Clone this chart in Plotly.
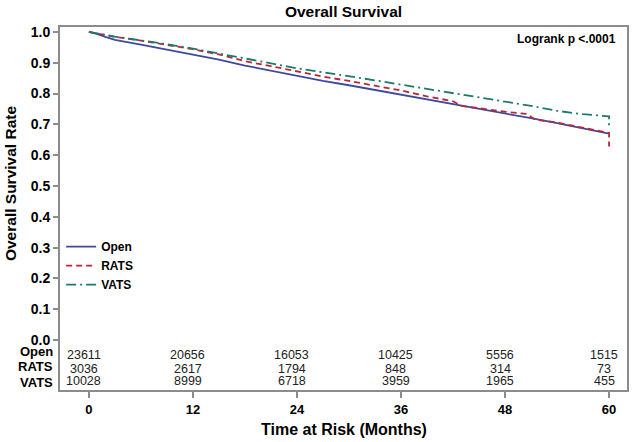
import plotly.graph_objects as go

# ---- data ----
months = [0, 1, 2, 3, 6, 9, 12, 15, 18, 21, 24, 27, 30, 33, 36, 39, 42, 45, 48, 51, 54, 57, 60, 60]
open_surv = [1.0, 0.993, 0.983, 0.974, 0.959, 0.943, 0.926, 0.910, 0.891, 0.874, 0.857, 0.841,
             0.827, 0.812, 0.797, 0.781, 0.765, 0.750, 0.735, 0.720, 0.704, 0.688, 0.672, 0.670]

rats_months = [0, 1, 2, 3, 6, 9, 12, 15, 18, 21, 24, 27, 30, 33, 36, 39, 42, 43, 45, 48, 50.5, 51.5,
               54, 57, 60, 60]
rats_surv = [1.0, 0.995, 0.990, 0.984, 0.972, 0.958, 0.944, 0.927, 0.905, 0.889, 0.871, 0.855,
             0.841, 0.826, 0.810, 0.791, 0.775, 0.760, 0.752, 0.741, 0.734, 0.715, 0.706, 0.690,
             0.672, 0.628]

vats_surv = [1.0, 0.996, 0.990, 0.985, 0.973, 0.960, 0.946, 0.930, 0.912, 0.897, 0.882, 0.869,
             0.857, 0.843, 0.829, 0.815, 0.803, 0.789, 0.774, 0.760, 0.744, 0.733, 0.726, 0.692]

risk_times = [0, 12, 24, 36, 48, 60]
risk_groups = ["Open", "RATS", "VATS"]
risk_open = [23611, 20656, 16053, 10425, 5556, 1515]
risk_rats = [3036, 2617, 1794, 848, 314, 73]
risk_vats = [10028, 8999, 6718, 3959, 1965, 455]

y_ticks = [0.0, 0.1, 0.2, 0.3, 0.4, 0.5, 0.6, 0.7, 0.8, 0.9, 1.0]

FONT = "Liberation Sans, Arial, Helvetica, sans-serif"
C_OPEN = "#3d4a9c"
C_RATS = "#b8263c"
C_VATS = "#1d7a68"
FRAME = "#8c8c8c"

fig = go.Figure()
fig.add_trace(go.Scatter(x=months, y=open_surv, mode="lines", name="Open",
                         line=dict(color=C_OPEN, width=1.8)))
fig.add_trace(go.Scatter(x=rats_months, y=rats_surv, mode="lines", name="RATS",
                         line=dict(color=C_RATS, width=1.8, dash="6px,4px")))
fig.add_trace(go.Scatter(x=months, y=vats_surv, mode="lines", name="VATS",
                         line=dict(color=C_VATS, width=1.8, dash="10px,4px,2px,4px")))

# at-risk table
risk_rows = [risk_open, risk_rats, risk_vats]
row_y_num = [-0.049, -0.095, -0.133]
row_y_lab = [-0.038, -0.087, -0.139]
annotations = []
for grp, vals, yn, yl in zip(risk_groups, risk_rows, row_y_num, row_y_lab):
    annotations.append(dict(x=-0.008, xref="paper", y=yl, yref="y", text=grp, showarrow=False,
                            xanchor="right", yanchor="middle",
                            font=dict(family=FONT, size=13, color="black", weight="bold")))
    for t, v in zip(risk_times, vals):
        annotations.append(dict(x=t, xref="x", y=yn, yref="y", text=str(v), showarrow=False,
                                xanchor="center", yanchor="middle", xshift=-5,
                                font=dict(family=FONT, size=12.5, color="#222222")))

annotations.append(dict(x=0.984, xref="paper", y=0.967, yref="paper", text="Logrank p <.0001",
                        showarrow=False, xanchor="right", yanchor="middle",
                        font=dict(family=FONT, size=12, color="black", weight="bold")))
annotations.append(dict(x=-0.086, xref="paper", y=0.568, yref="paper", text="Overall Survival Rate",
                        showarrow=False, xanchor="center", yanchor="middle", textangle=-90,
                        font=dict(family=FONT, size=15.5, color="black", weight="bold")))
annotations.append(dict(x=0.5, xref="paper", y=-0.110, yref="paper", text="Time at Risk (Months)",
                        showarrow=False, xanchor="center", yanchor="middle",
                        font=dict(family=FONT, size=16, color="black", weight="bold")))

fig.update_layout(
    width=633, height=442,
    margin=dict(l=60, r=4, t=27, b=52),
    paper_bgcolor="white", plot_bgcolor="white",
    title=dict(text="Overall Survival", x=0.5, xref="paper", xanchor="center",
               y=1 - 12 / 442, yref="container", yanchor="middle",
               font=dict(family=FONT, size=15.5, color="black", weight="bold")),
    showlegend=True,
    legend=dict(x=0.002, y=0.435, xanchor="left", yanchor="top", bgcolor="rgba(0,0,0,0)",
                tracegroupgap=0, font=dict(family=FONT, size=12, color="black", weight="bold")),
    annotations=annotations,
    xaxis=dict(range=[-3.33, 62.07], tickvals=risk_times, ticks="outside", ticklen=6,
               tickcolor=FRAME, tickwidth=1.5, showgrid=False, zeroline=False,
               showline=True, linecolor=FRAME, linewidth=2, mirror=True,
               tickfont=dict(family=FONT, size=13, color="black", weight="bold")),
    yaxis=dict(range=[-0.162, 1.016], tickvals=y_ticks, tickformat=".1f", ticks="outside",
               ticklen=5, tickcolor=FRAME, tickwidth=1.5, showgrid=False, zeroline=False,
               showline=True, linecolor=FRAME, linewidth=2, mirror=True,
               tickfont=dict(family=FONT, size=14, color="black", weight="bold")),
)

fig.write_html("out.html", config={"displayModeBar": False},
               post_script="document.body.style.margin='0';document.body.style.overflow='hidden';")
